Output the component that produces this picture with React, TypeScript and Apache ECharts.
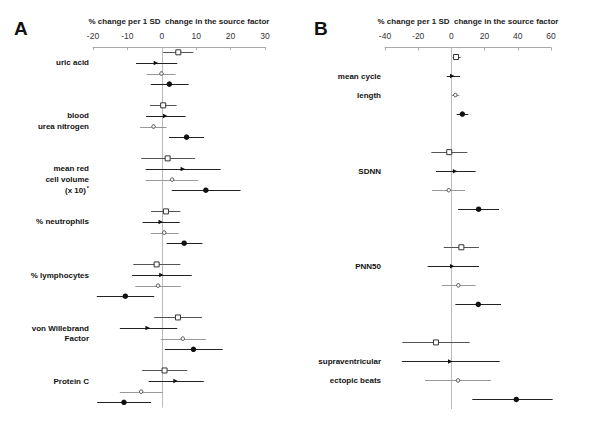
import React, { useEffect, useRef } from "react";
import * as echarts from "echarts";

// Panel A: each entry [estimate, lower CI, upper CI] per group
const aGroups = [
  ["uric acid"],
  ["blood", "urea nitrogen"],
  ["mean red", "cell volume", "(x 10){sup|*}"],
  ["% neutrophils"],
  ["% lymphocytes"],
  ["von Willebrand", "Factor"],
  ["Protein C"],
];
const aSquare = [[4.8, 0.4, 9.2], [0.4, -3.4, 4.3], [1.7, -6.0, 9.7], [1.2, -3.1, 5.4], [-1.5, -8.3, 5.4], [4.7, -2.2, 11.7], [0.8, -5.7, 7.4]];
const aTriangle = [[-1.7, -7.5, 4.5], [1.0, -4.6, 6.9], [6.1, -4.7, 17.1], [-0.3, -5.6, 5.2], [-0.1, -8.7, 8.7], [-4.1, -12.2, 4.5], [4.0, -3.8, 12.2]];
const aCircle = [[-0.1, -4.4, 4.0], [-2.4, -6.3, 1.4], [3.0, -4.7, 10.6], [0.7, -3.2, 4.9], [-1.1, -7.7, 5.5], [6.1, -0.3, 12.8], [-6.0, -12.2, 0.3]];
const aFilled = [[2.2, -3.2, 7.8], [7.2, 2.1, 12.3], [12.8, 2.9, 22.9], [6.5, 1.4, 11.8], [-10.6, -18.9, -2.2], [9.2, 0.9, 17.7], [-11.0, -18.8, -3.1]];
const aTicks = { min: -20, max: 30, interval: 10 };

// Panel B
const bGroups = [
  ["mean cycle", "length"],
  ["SDNN"],
  ["PNN50"],
  ["supraventricular", "ectopic beats"],
];
const bSquare = [[2.8, 0.8, 5.6], [-1.3, -12.1, 9.6], [6.0, -4.6, 16.6], [-9.3, -29.6, 11.0]];
const bTriangle = [[0.5, -2.8, 5.2], [2.2, -9.3, 14.6], [0.5, -14.3, 16.6], [-0.7, -29.8, 29.1]];
const bCircle = [[2.4, 0.2, 4.8], [-1.6, -11.7, 8.2], [4.2, -5.8, 14.6], [4.0, -15.9, 23.9]];
const bFilled = [[6.6, 3.2, 10.2], [16.4, 4.0, 28.7], [16.2, 2.4, 29.9], [39.1, 12.6, 61.0]];
const bTicks = { min: -40, max: 60, interval: 20 };

const axisTitle = "% change per 1 SD  change in the source factor";
const FONT = "Liberation Sans, Arial, sans-serif";

const styles = [
  { symbol: "rect", size: 5, fill: "#ffffff", stroke: "#333", line: "#555", rotate: 0, bw: 1 },
  { symbol: "triangle", size: 4.5, fill: "#111", stroke: "#111", line: "#222", rotate: -90, bw: 0 },
  { symbol: "circle", size: 3.5, fill: "#ffffff", stroke: "#444", line: "#999", rotate: 0, bw: 1 },
  { symbol: "circle", size: 5.5, fill: "#111", stroke: "#111", line: "#222", rotate: 0, bw: 0 },
];

function buildPanel(
  idx: number,
  groups: string[][],
  sets: number[][][],
) {
  const nRows = groups.length * 5 - 1;
  const cats: string[] = [];
  for (let r = 0; r < nRows; r++) cats.push("");
  groups.forEach((labels, g) => {
    labels.forEach((t, i) => {
      cats[g * 5 + 1 + i] = t;
    });
  });
  const series: any[] = [];
  sets.forEach((set, s) => {
    const st = styles[s];
    const segs = set.map((d, g) => [d[1], d[2], g * 5 + s]);
    series.push({
      type: "custom",
      xAxisIndex: idx,
      yAxisIndex: idx,
      data: segs,
      silent: true,
      z: 2,
      renderItem: (params: any, api: any) => {
        const p1 = api.coord([api.value(0), api.value(2)]);
        const p2 = api.coord([api.value(1), api.value(2)]);
        return {
          type: "line",
          shape: { x1: p1[0], y1: Math.round(p1[1]) + 0.5, x2: p2[0], y2: Math.round(p2[1]) + 0.5 },
          style: { stroke: st.line, lineWidth: 1 },
        };
      },
      encode: { x: [0, 1], y: 2 },
    });
    series.push({
      type: "scatter",
      xAxisIndex: idx,
      yAxisIndex: idx,
      data: set.map((d, g) => [d[0], g * 5 + s]),
      symbol: st.symbol,
      symbolSize: st.size,
      symbolRotate: st.rotate,
      z: 3,
      silent: true,
      itemStyle: { color: st.fill, borderColor: st.stroke, borderWidth: st.bw, opacity: 1 },
      ...(s === 0
        ? {
            markLine: {
              silent: true,
              symbol: "none",
              label: { show: false },
              lineStyle: { color: "#bbb", width: 1, type: "solid" },
              data: [{ xAxis: 0 }],
              z: 1,
            },
          }
        : {}),
    });
  });
  return { cats, series };
}

export default function App() {
  const ref = useRef<HTMLDivElement>(null);
  useEffect(() => {
    if (!ref.current) return;
    const chart = echarts.init(ref.current, null, { renderer: "svg" });
    const A = buildPanel(0, aGroups, [aSquare, aTriangle, aCircle, aFilled]);
    const B = buildPanel(1, bGroups, [bSquare, bTriangle, bCircle, bFilled]);
    const xAxisBase = (t: { min: number; max: number; interval: number }, idx: number) => ({
      type: "value",
      gridIndex: idx,
      position: "top",
      min: t.min,
      max: t.max,
      interval: t.interval,
      splitLine: { show: false },
      axisLine: { show: true, lineStyle: { color: "#aaa", width: 1 } },
      axisTick: { show: true, inside: true, length: 3, lineStyle: { color: "#aaa" } },
      axisLabel: { color: "#333", fontSize: 8.5, margin: 7, fontFamily: FONT },
      name: axisTitle,
      nameLocation: "middle",
      nameGap: 22,
      nameTextStyle: { color: "#222", fontSize: 8, fontWeight: "bold", fontFamily: FONT },
    });
    const yAxisBase = (cats: string[], idx: number) => ({
      type: "category",
      gridIndex: idx,
      inverse: true,
      data: cats,
      axisLine: { show: false },
      axisTick: { show: false },
      splitLine: { show: false },
      axisLabel: {
        interval: 0,
        margin: 4,
        color: "#111",
        fontSize: 8,
        fontWeight: "bold",
        fontFamily: FONT,
        rich: {
          sup: { fontSize: 5.5, fontWeight: "bold", color: "#111", padding: [0, 0, 5, 1], fontFamily: FONT },
        },
      },
    });
    chart.setOption({
      animation: false,
      backgroundColor: "#ffffff",
      textStyle: { fontFamily: FONT },
      grid: [
        { left: 93, width: 172, top: 47, bottom: 16.4 },
        { left: 385, width: 166, top: 47.5, bottom: 15 },
      ],
      xAxis: [xAxisBase(aTicks, 0), xAxisBase(bTicks, 1)],
      yAxis: [yAxisBase(A.cats, 0), yAxisBase(B.cats, 1)],
      series: [...A.series, ...B.series],
      graphic: [
        { type: "text", left: 14, top: 19, style: { text: "A", fontSize: 19, fontWeight: "bold", fill: "#111", fontFamily: FONT } },
        { type: "text", left: 314, top: 19, style: { text: "B", fontSize: 19, fontWeight: "bold", fill: "#111", fontFamily: FONT } },
      ],
    });
    return () => chart.dispose();
  }, []);
  return <div ref={ref} style={{ position: "fixed", left: 0, top: 0, width: 600, height: 424 }} />;
}
